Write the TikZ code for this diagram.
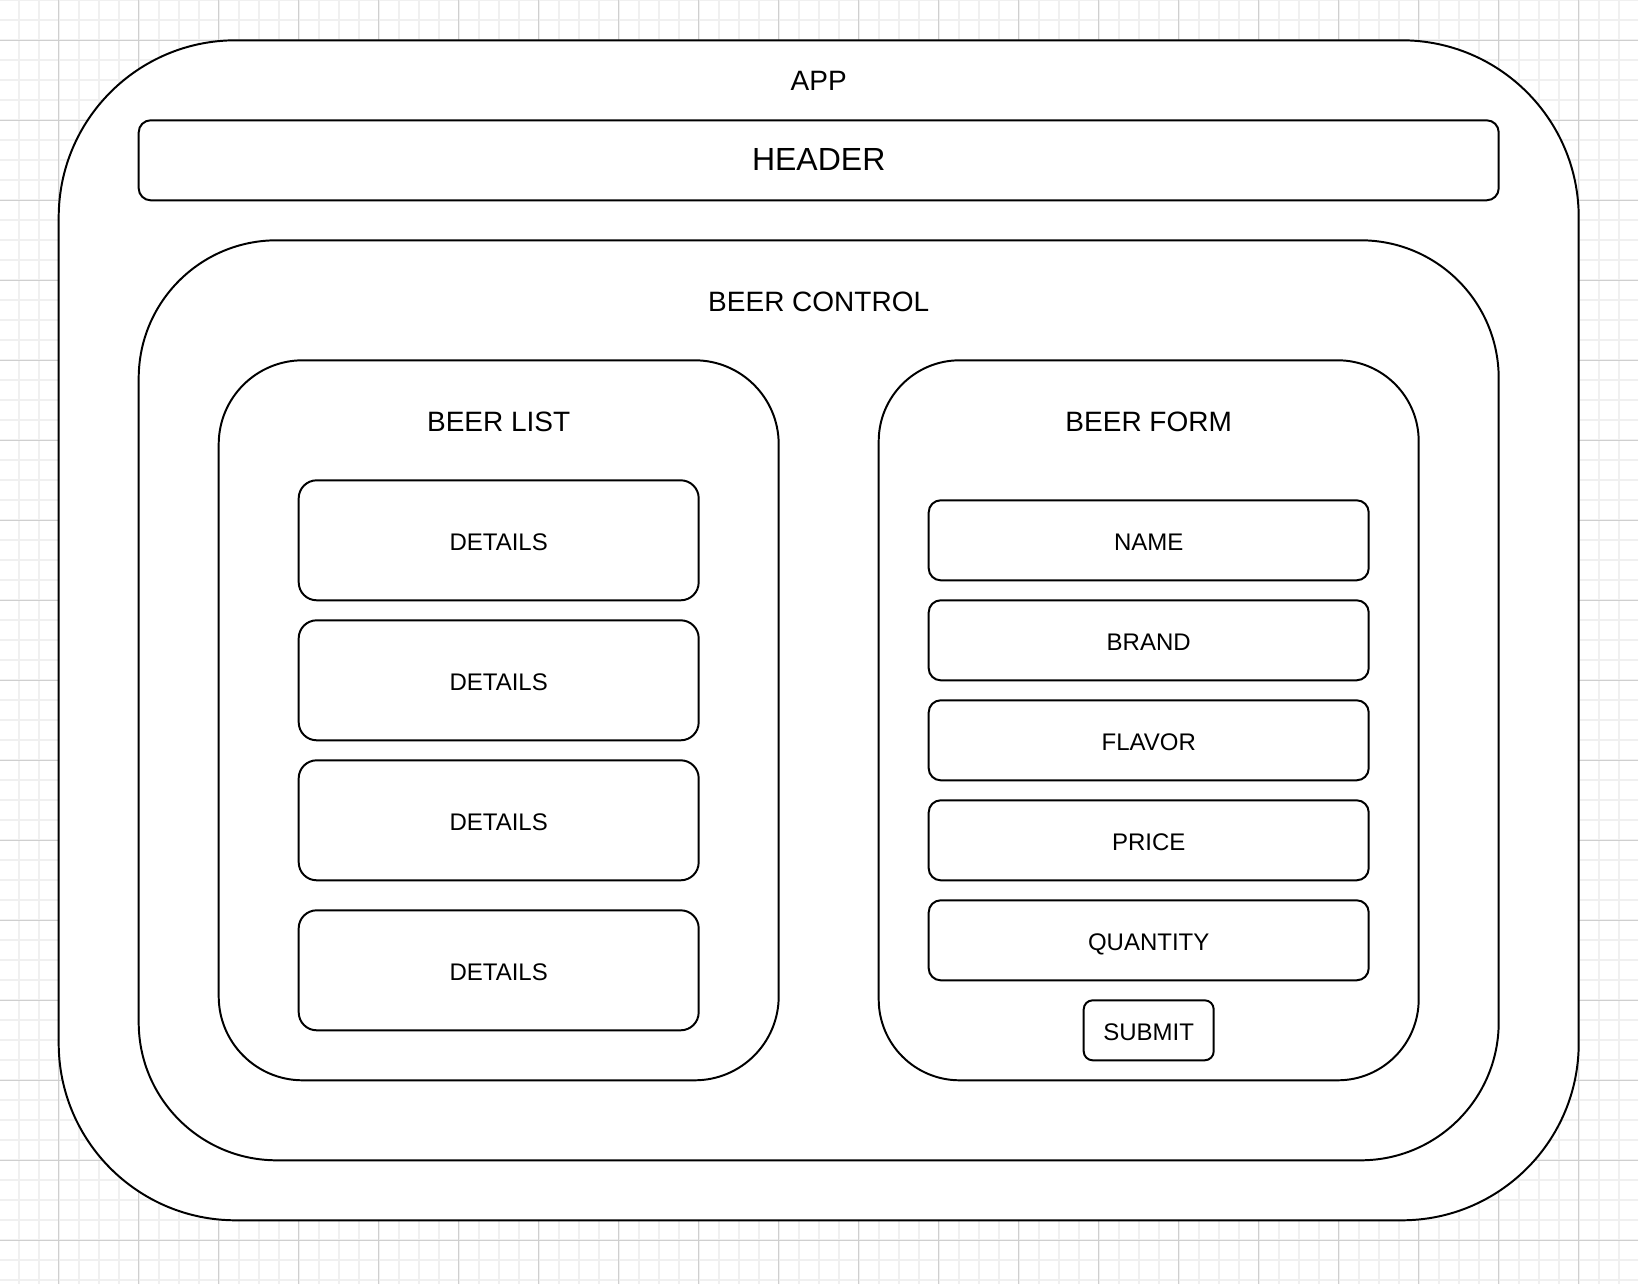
\documentclass[tikz,border=0pt]{standalone}
\usepackage{fontspec}
\setmainfont{Liberation Sans}

\tikzset{
  box/.style={draw, line width=1.4pt, fill=white, inner sep=0pt},
  txt/.style={inner sep=0pt, text height=0.716em, text depth=0pt},
  boxtxt/.style={text height={0.716em+0.24cm}},
  small/.style={txt, font=\fontsize{17.07}{20}\selectfont},
  mid/.style={txt, font=\fontsize{19.92}{24}\selectfont},
  big/.style={txt, font=\fontsize{22.76}{27}\selectfont},
}

\begin{document}
\begin{tikzpicture}[x=0.5cm,y=-0.5cm]
  \useasboundingbox (-2.935,-2.015) rectangle (78.965,62.185);

  % grid
  \fill[white] (-2.935,-2.015) rectangle (78.965,62.185);
  \foreach \i in {-2,...,78}
    \draw[black!6, line width=1.2pt] (\i,-2.015) -- (\i,62.185);
  \foreach \j in {-2,...,62}
    \draw[black!6, line width=1.2pt] (-2.935,\j) -- (78.965,\j);
  \foreach \i in {0,4,...,76}
    \draw[black!19, line width=0.6pt] (\i,-2.015) -- (\i,62.185);
  \foreach \j in {0,4,...,60}
    \draw[black!19, line width=0.6pt] (-2.935,\j) -- (78.965,\j);

  % containers
  \node[box, minimum width=38cm, minimum height=29.5cm, rounded corners=4.425cm] (app) at (38,29.5) {};
  \node[mid] (applbl) at (38,2.25) {APP};
  \node[box, big, boxtxt, minimum width=34cm, minimum height=2cm, rounded corners=0.3cm] (header) at (38,6) {HEADER};
  \node[box, minimum width=34cm, minimum height=23cm, rounded corners=3.45cm] (control) at (38,33) {};
  \node[mid] (controllbl) at (38,13.3) {BEER CONTROL};

  % list
  \node[box, minimum width=14cm, minimum height=18cm, rounded corners=2.1cm] (list) at (22,34) {};
  \node[mid] (listlbl) at (22,19.3) {BEER LIST};
  \foreach \y/\n in {25/1,32/2,39/3,46.5/4}
    \node[box, small, boxtxt, minimum width=10cm, minimum height=3cm, rounded corners=0.45cm] (details\n) at (22,\y) {DETAILS};

  % form
  \node[box, minimum width=13.5cm, minimum height=18cm, rounded corners=2.025cm] (form) at (54.5,34) {};
  \node[mid] (formlbl) at (54.5,19.3) {BEER FORM};
  \foreach \y/\t in {25/NAME,30/BRAND,35/FLAVOR,40/PRICE,45/QUANTITY}
    \node[box, small, boxtxt, minimum width=11cm, minimum height=2cm, rounded corners=0.3cm] (\t) at (54.5,\y) {\t};
  \node[box, small, boxtxt, minimum width=3.25cm, minimum height=1.5cm, rounded corners=0.225cm] (submit) at (54.5,49.5) {SUBMIT};
\end{tikzpicture}
\end{document}
